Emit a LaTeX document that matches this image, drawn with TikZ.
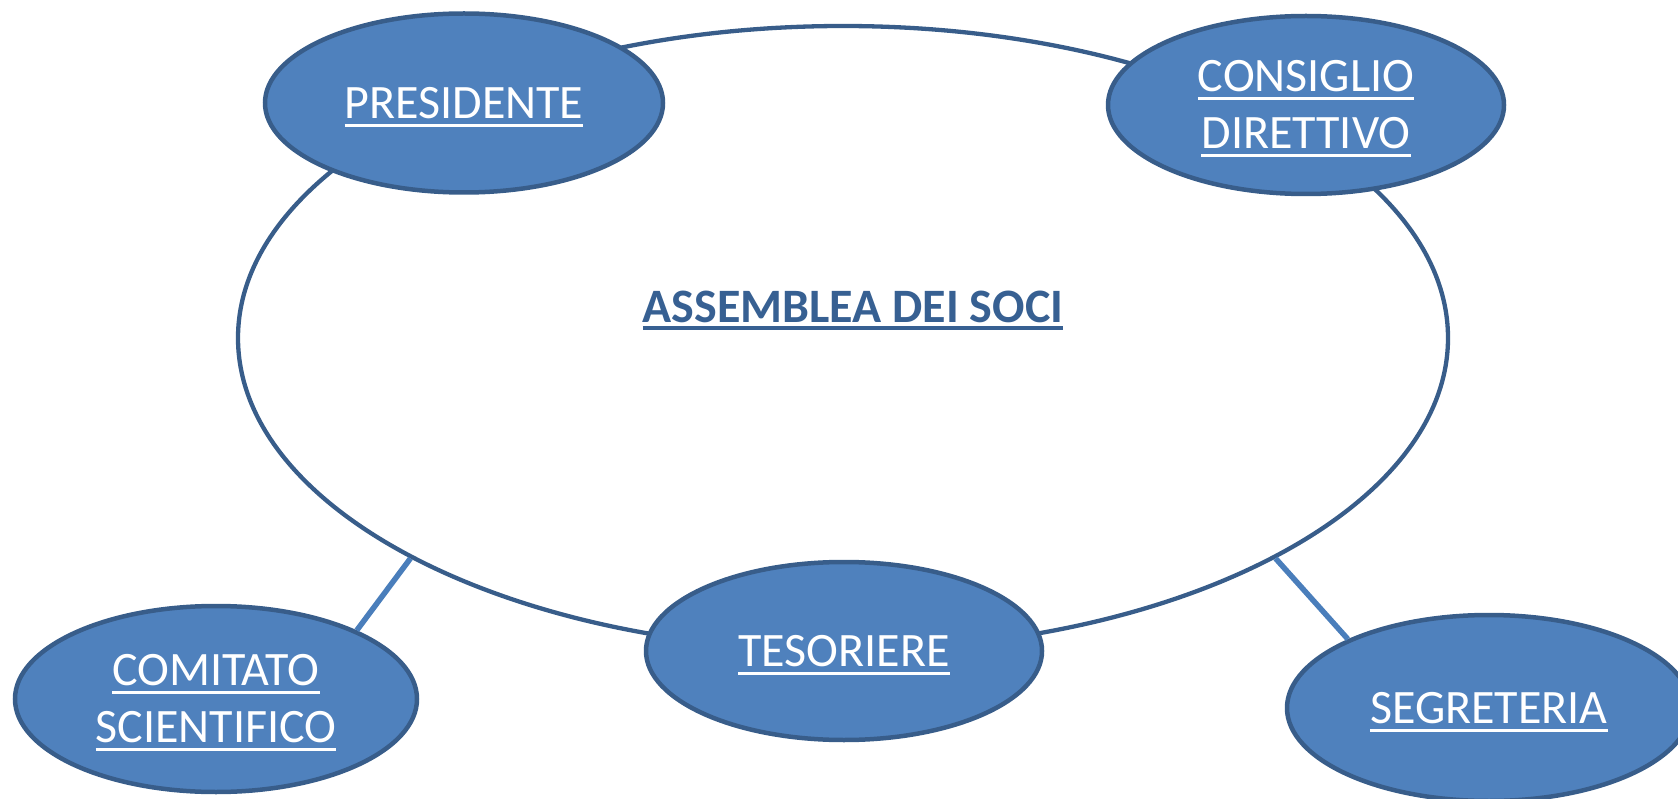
\documentclass[tikz,border=0pt]{standalone}
\usepackage{fontspec}
\setmainfont{Carlito}
\usetikzlibrary{shapes.geometric}
\definecolor{fillblue}{HTML}{4F81BD}
\definecolor{edgeblue}{HTML}{385D8A}
\definecolor{titleblue}{HTML}{376092}
\definecolor{linkblue}{HTML}{4A7EBB}
\newbox\ultextbox
\newbox\ulrulebox
\newcommand{\ulgeneric}[3]{%
  \setbox\ultextbox\hbox{#3}%
  \setbox\ulrulebox\hbox to 0pt{\vrule width\wd\ultextbox height -#1 depth #2\hss}%
  \ht\ulrulebox=0pt \dp\ulrulebox=0pt
  \box\ulrulebox\box\ultextbox}
\newcommand{\myul}[1]{\ulgeneric{5.5pt}{8.5pt}{#1}}
\newcommand{\myulb}[1]{\ulgeneric{3.8pt}{7.3pt}{#1}}
\tikzset{
  office/.style={ellipse, draw=edgeblue, fill=fillblue, line width=4.5pt, inner sep=0pt,
    text=white, align=center, font=\fontsize{48}{57}\selectfont},
  bigring/.style={ellipse, draw=edgeblue, line width=4.3pt, inner sep=0pt,
    minimum width=1210pt, minimum height=624pt},
  titletext/.style={text=titleblue, inner sep=0pt, font=\fontsize{48}{57}\selectfont\bfseries},
  link/.style={draw=linkblue, line width=5.5pt}
}
\begin{document}
\begin{tikzpicture}[x=1pt,y=-1pt]
\useasboundingbox (0,0) rectangle (1678,799);
\node[bigring] (ring) at (843,338) {};
\node[titletext] (title) at (853,307) {\myulb{ASSEMBLEA DEI SOCI}};
\node[office, minimum width=402pt, minimum height=186pt] (comitato) at (216,699) {\myul{COMITATO}\\\myul{SCIENTIFICO}};
\node[office, minimum width=404pt, minimum height=186pt] (segreteria) at (1489,708) {\myul{SEGRETERIA}};
\draw[link] (ring.207.7) -- (comitato.26.5);
\draw[link] (ring.333.9) -- (segreteria.154);
\node[office, minimum width=398pt, minimum height=179pt] (presidente) at (464,103) {\myul{PRESIDENTE}};
\node[office, minimum width=396pt, minimum height=178pt] (consiglio) at (1306,105) {\myul{CONSIGLIO}\\\myul{DIRETTIVO}};
\node[office, minimum width=396pt, minimum height=178pt] (tesoriere) at (844,651) {\myul{TESORIERE}};
\end{tikzpicture}
\end{document}
